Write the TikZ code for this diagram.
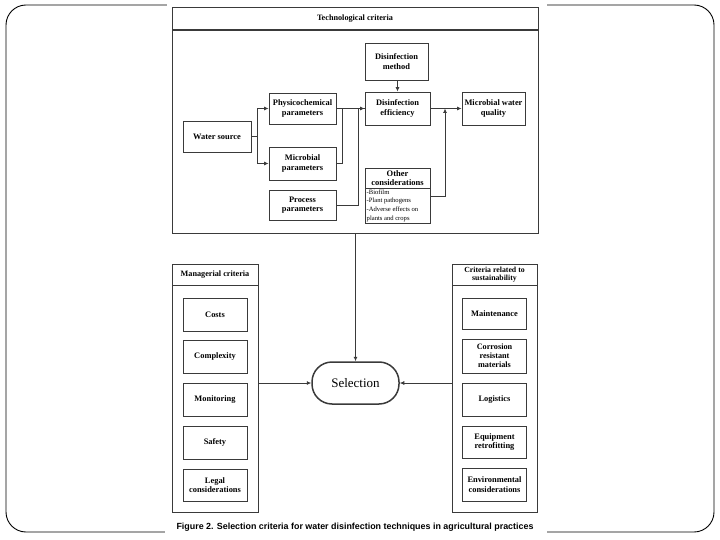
\documentclass[tikz,border=0pt]{standalone}
\usepackage{fontspec}
\setmainfont{Liberation Serif}
\newfontfamily\capfont{Liberation Sans}
\usetikzlibrary{arrows.meta,calc}
\definecolor{ln}{HTML}{3A3A3A}
\tikzset{
  bx/.style={draw=ln, line width=0.9pt, rectangle, inner sep=1pt, align=center,
    font=\bfseries\fontsize{8.4}{9.6}\selectfont},
  frm/.style={draw=ln, line width=0.9pt, rectangle, inner sep=0pt},
  arr/.style={draw=ln, line width=0.8pt, -{Latex[length=4.5pt,width=4pt]}},
  ln/.style={draw=ln, line width=0.8pt},
}
\begin{document}
\begin{tikzpicture}[x=1pt,y=-1pt]
\useasboundingbox (0,0) rectangle (720,540);
% outer slide frame
\draw[black, line width=0.9pt, rounded corners=20pt] (6,5) rectangle (714,532);
\fill[white] (167,0) rectangle (547,12);
\fill[white] (165,515) rectangle (547,538);
% technological criteria
\node[frm, minimum width=366, minimum height=23] (th) at (355,18.5) {};
\node[font=\bfseries\fontsize{8.2}{9.5}\selectfont] (tht) at (355,18.5) {Technological criteria};
\node[frm, minimum width=366, minimum height=203] (tb) at (355,131.5) {};
\draw[ln, line width=1.6pt] (172,30) -- (538,30);
\node[bx, minimum width=63, minimum height=37] (dm) at (396.5,61.5) {Disinfection\\method};
\node[bx, minimum width=65, minimum height=33] (de) at (397.5,108.5) {Disinfection\\efficiency};
\node[bx, minimum width=63, minimum height=33] (mwq) at (493.5,108.5) {Microbial water\\quality};
\node[bx, minimum width=67, minimum height=31] (pp) at (302.5,108.5) {Physicochemical\\parameters};
\node[bx, minimum width=68, minimum height=31] (ws) at (217,136.5) {Water source};
\node[bx, minimum width=67, minimum height=33] (mp) at (302.5,163.5) {Microbial\\parameters};
\node[bx, minimum width=67, minimum height=30] (prp) at (302.5,205) {Process\\parameters};
\node[bx, inner sep=0pt, minimum width=65, minimum height=20, font=\bfseries\fontsize{8.5}{9}\selectfont] (och) at (397.5,178) {Other\\considerations};
\node[frm, minimum width=65, minimum height=35] (ocb) at (397.5,205.5) {};
\node[anchor=north west, inner sep=0pt, align=left, font=\fontsize{6.6}{8.6}\selectfont] (ocl) at (366.5,189.5) {-Biofilm\\-Plant pathogens\\-Adverse effects on\\plants and crops};
% connectors technological
\draw[arr] (ws.east) -- ++(6,0) |- (pp.west);
\draw[arr] (ws.east) -- ++(6,0) |- (mp.west);
\draw[ln] (mp.east) -- ++(6,0) |- (pp.east);
\draw[arr] (pp.east) -- (de.west);
\draw[ln] (prp.east) -- ++(21.5,0) |- (de.west);
\draw[arr] (dm.south -| de.north) -- (de.north);
\draw[arr] (de.east) -- (mwq.west);
\coordinate (ocm) at (445,108.5);
\draw[arr] ($(ocb.east)+(0,-9.5)$) -| (ocm);
% managerial
\node[frm, minimum width=86, minimum height=21] (mh) at (215,274.5) {};
\node[font=\bfseries\fontsize{8.2}{9.5}\selectfont] (mht) at (215,274.5) {Managerial criteria};
\node[frm, minimum width=86, minimum height=227] (mb) at (215,398.5) {};
\node[bx, minimum width=64, minimum height=33] (costs) at (215,314.5) {Costs};
\node[bx, minimum width=64, minimum height=33] (compl) at (215,356.5) {Complexity};
\node[bx, minimum width=64, minimum height=33] (moni) at (215,399.5) {Monitoring};
\node[bx, minimum width=64, minimum height=33] (safe) at (215,442.5) {Safety};
\node[bx, minimum width=64, minimum height=32] (legal) at (215,485) {Legal\\considerations};
% sustainability
\node[frm, minimum width=85, minimum height=21] (sh) at (494.5,274.5) {};
\node[align=center, font=\bfseries\fontsize{7.8}{8.6}\selectfont] (sht) at (494.5,274.5) {Criteria related to\\sustainability};
\node[frm, minimum width=85, minimum height=227] (sb) at (494.5,398.5) {};
\node[bx, minimum width=64, minimum height=31] (maint) at (494.5,313.5) {Maintenance};
\node[bx, minimum width=64, minimum height=34, font=\bfseries\fontsize{8.2}{9}\selectfont] (corr) at (494.5,356) {Corrosion\\resistant\\materials};
\node[bx, minimum width=64, minimum height=33] (logi) at (494.5,399.5) {Logistics};
\node[bx, minimum width=64, minimum height=32] (equip) at (494.5,442) {Equipment\\retrofitting};
\node[bx, minimum width=64, minimum height=33] (envi) at (494.5,484.5) {Environmental\\considerations};
% selection
\node[draw=ln, line width=1.5pt, rounded corners=20pt, minimum width=87, minimum height=42, font=\fontsize{13}{15}\selectfont] (sel) at (355.5,383) {Selection};
\draw[arr] (tb.south -| sel.north) -- (sel.north);
\draw[arr] (mb.east |- sel.west) -- (sel.west);
\draw[arr] (sb.west |- sel.east) -- (sel.east);
% caption
\node[font=\capfont\bfseries\fontsize{8.9}{10}\selectfont] (cap) at (355,527) {Figure 2. Selection criteria for water disinfection techniques in agricultural practices};
\end{tikzpicture}
\end{document}
